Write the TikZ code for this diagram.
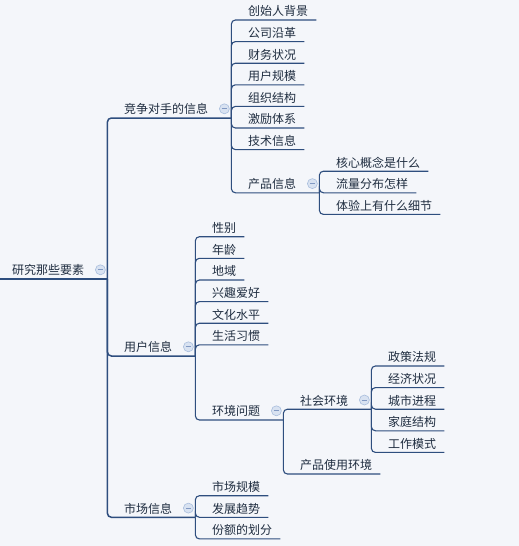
\documentclass[tikz,border=0pt]{standalone}
\usepackage{fontspec}
\newfontfamily\cjk{Noto Sans CJK SC}
\usepackage{xcolor}
\definecolor{mapBg}{HTML}{F4F6FA}
\definecolor{mapLine}{HTML}{2E4E7E}
\definecolor{mapInk}{HTML}{1F2D40}
\definecolor{foldFill}{HTML}{D8E2F1}
\definecolor{foldEdge}{HTML}{A9BEDD}
\definecolor{foldSign}{HTML}{8199C3}
\usepackage{tikz}
\tikzset{
  %% ── Topics ───────────────────────────────────────────────────────────
  %% A topic is its text alone; the line under it is drawn by the branch
  %% that reaches it, so the node is anchored on that line.
  topic/.style  = {anchor=south west, inner xsep=0pt, inner ysep=2pt,
                   text height=10pt, text depth=2pt, text=mapInk,
                   font=\cjk\fontsize{12}{14}\selectfont},
  fold/.style   = {circle, draw=foldEdge, fill=foldFill, line width=0.6pt,
                   minimum size=10pt, inner sep=0pt,
                   path picture={\draw[foldSign, line width=0.8pt]
                     ([xshift=-2.6pt]path picture bounding box.center) --
                     ([xshift=2.6pt]path picture bounding box.center);}},
  %%
  %% ── Branches ─────────────────────────────────────────────────────────
  branch/.style = {draw=mapLine, line width=1.1pt, rounded corners=4pt},
  trunk/.style  = {branch, line width=1.5pt},
}

\begin{document}
\begin{tikzpicture}[x=1pt, y=-1pt]

\fill[mapBg] (0,0) rectangle (519,546);
\useasboundingbox (0,0) rectangle (519,546);

% root
\coordinate (rootIn) at (0,279);
\node[topic] (root) at (12,279) {研究那些要素};
\node[fold] (root-fold) at ([xshift=16pt, yshift=1pt]root.east) {};
\coordinate (root-j) at ([xshift=23pt]root.south east);
\draw[trunk] (rootIn) -- (root-j);

% first level
\node[topic] (comp) at (124,118) {竞争对手的信息};
\node[topic] (user) at (124,356) {用户信息};
\node[topic] (mkt) at (124,517.3) {市场信息};
\foreach \n in {comp, user, mkt} {
  \node[fold] (\n-fold) at ([xshift=16pt, yshift=1pt]\n.east) {};
  \coordinate (\n-j) at ([xshift=23pt]\n.south east);
  \draw[trunk] (root-j) |- (\n-j);
}

% competitors
\foreach \n/\y/\txt in {cFounder/20/创始人背景, cHistory/41.6/公司沿革,
    cFinance/63.2/财务状况, cUsers/84.8/用户规模, cOrg/106.4/组织结构,
    cIncentive/128/激励体系, cTech/149.6/技术信息} {
  \node[topic] (\n) at (248,\y) {\txt};
  \draw[branch] (comp-j) |- ([xshift=8pt]\n.south east);
}
\node[topic] (cProduct) at (248,192.8) {产品信息};
\node[fold] (cProduct-fold) at ([xshift=16pt, yshift=1pt]cProduct.east) {};
\coordinate (cProduct-j) at ([xshift=23pt]cProduct.south east);
\draw[branch] (comp-j) |- (cProduct-j);
\foreach \n/\y/\txt in {pCore/171.2/核心概念是什么, pFlow/192.8/流量分布怎样,
    pDetail/214.4/体验上有什么细节} {
  \node[topic] (\n) at (336,\y) {\txt};
  \draw[branch] (cProduct-j) |- ([xshift=8pt]\n.south east);
}

% users
\foreach \n/\y/\txt in {uGender/236.7/性别, uAge/258.3/年龄, uRegion/280/地域,
    uHobby/301.6/兴趣爱好, uEdu/323.2/文化水平, uHabit/344.8/生活习惯} {
  \node[topic] (\n) at (212,\y) {\txt};
  \draw[branch] (user-j) |- ([xshift=8pt]\n.south east);
}
\node[topic] (uEnv) at (212,420) {环境问题};
\node[fold] (uEnv-fold) at ([xshift=16pt, yshift=1pt]uEnv.east) {};
\coordinate (uEnv-j) at ([xshift=23pt]uEnv.south east);
\draw[branch] (user-j) |- (uEnv-j);

\node[topic] (eSocial) at (300,409.2) {社会环境};
\node[fold] (eSocial-fold) at ([xshift=16pt, yshift=1pt]eSocial.east) {};
\coordinate (eSocial-j) at ([xshift=23pt]eSocial.south east);
\draw[branch] (uEnv-j) |- (eSocial-j);
\node[topic] (eUsage) at (300,474) {产品使用环境};
\draw[branch] (uEnv-j) |- ([xshift=8pt]eUsage.south east);

\foreach \n/\y/\txt in {sPolicy/366/政策法规, sEconomy/387.6/经济状况,
    sUrban/409.2/城市进程, sFamily/430.8/家庭结构, sWork/452.4/工作模式} {
  \node[topic] (\n) at (388,\y) {\txt};
  \draw[branch] (eSocial-j) |- ([xshift=8pt]\n.south east);
}

% market
\foreach \n/\y/\txt in {mSize/495.7/市场规模, mTrend/517.3/发展趋势,
    mShare/538.9/份额的划分} {
  \node[topic] (\n) at (212,\y) {\txt};
  \draw[branch] (mkt-j) |- ([xshift=8pt]\n.south east);
}

\end{tikzpicture}
\end{document}
